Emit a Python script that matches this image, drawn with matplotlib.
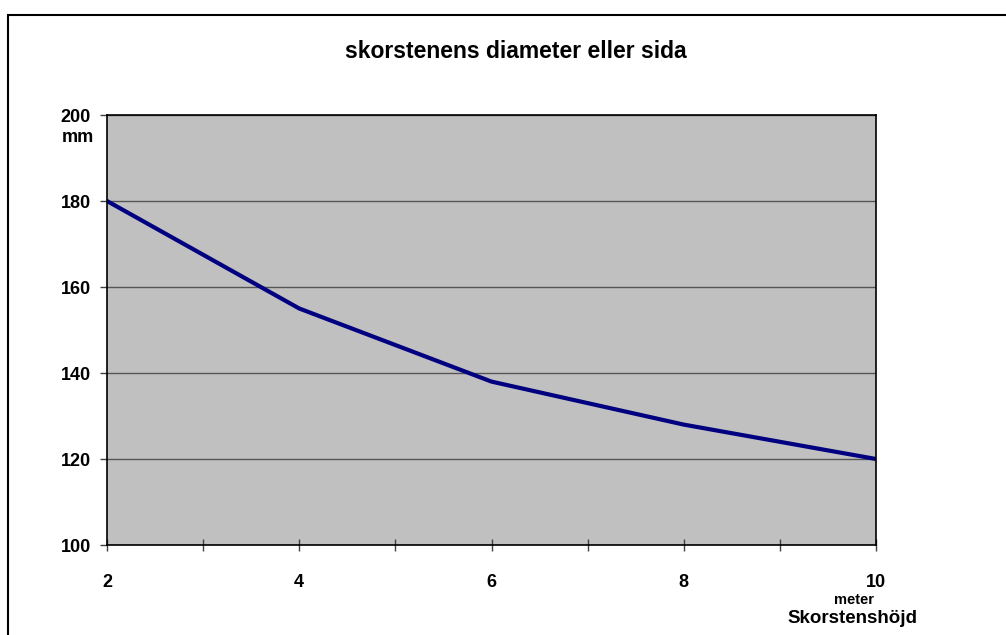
import matplotlib
matplotlib.use("Agg")
import matplotlib.pyplot as plt
from matplotlib.patches import Rectangle

# data
hojd = [2, 4, 6, 8, 10]          # meter
diameter = [180, 155, 138, 128, 120]  # mm
y_ticks = [100, 120, 140, 160, 180, 200]
x_ticks = [2, 4, 6, 8, 10]

plt.rcParams['font.family'] = ['Liberation Sans', 'DejaVu Sans']
plt.rcParams['font.weight'] = 'bold'

fig = plt.figure(figsize=(10.06, 6.35), dpi=100)
fig.patch.set_facecolor('white')

# outer chart border (cut off on the right and bottom)
fig.patches.append(Rectangle((8 / 1006, -0.05), 1.1, 1 - 15 / 635 + 0.05,
                             transform=fig.transFigure, fill=False,
                             edgecolor='black', linewidth=1.5))

ax = fig.add_axes([107 / 1006, 90 / 635, 769 / 1006, 430 / 635])
ax.set_facecolor('#c0c0c0')

ax.plot(hojd, diameter, color='#000080', linewidth=3.0, solid_joinstyle='round')

ax.set_xlim(2, 10)
ax.set_ylim(100, 200)
ax.set_yticks(y_ticks)
ax.set_xticks(x_ticks)
ax.set_xticks(range(3, 10, 2), minor=True)
ax.yaxis.grid(True, color='#555555', linewidth=1)
ax.set_axisbelow(True)

for s in ax.spines.values():
    s.set_color('black')
    s.set_linewidth(1.2)

ax.tick_params(axis='y', direction='out', length=5, width=1, color='#404040',
               labelsize=13, pad=6.5)
ax.tick_params(axis='x', which='both', direction='inout', length=8, width=1,
               color='#404040', labelsize=13, pad=17)

ax.text(-0.0377, 0.948, 'mm', transform=ax.transAxes, ha='center', va='center',
        fontsize=13, fontweight='bold')
ax.text(0.972, -0.128, 'meter', transform=ax.transAxes, ha='center', va='center',
        fontsize=10.5, fontweight='bold')
ax.text(0.969, -0.172, 'Skorstenshöjd', transform=ax.transAxes, ha='center',
        va='center', fontsize=13.5, fontweight='bold')

fig.text(516 / 1006, 1 - 52 / 635, 'skorstenens diameter eller sida',
         ha='center', va='center', fontsize=16.5, fontweight='bold')

fig.savefig('out.png', dpi=100)
